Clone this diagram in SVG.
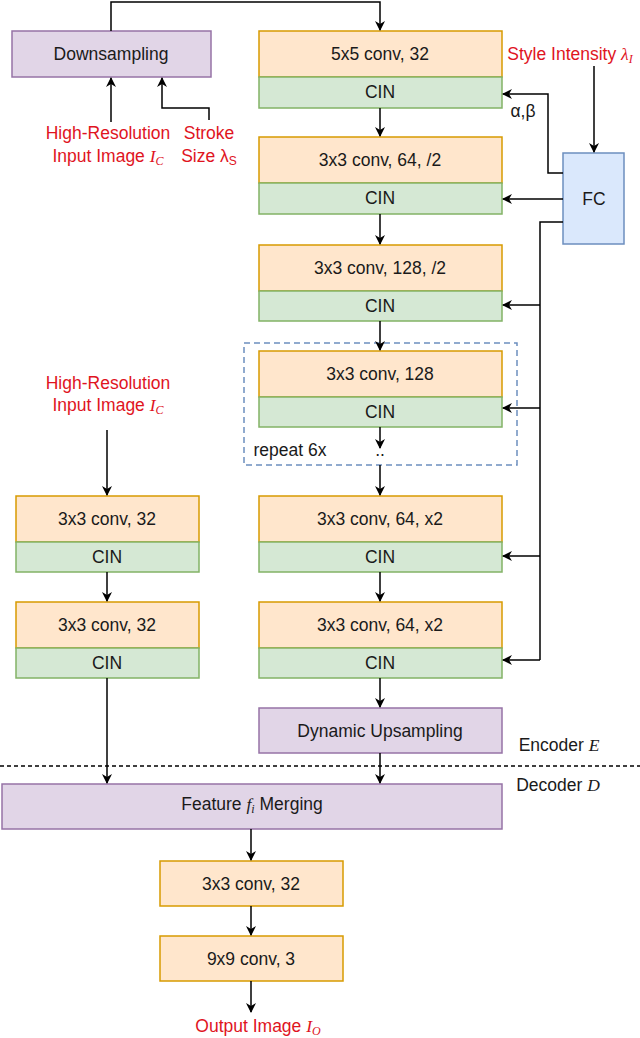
<svg xmlns="http://www.w3.org/2000/svg" width="640" height="1038" viewBox="0 0 640 1038">
<defs>
<marker id="ah" markerWidth="10" markerHeight="10" refX="9" refY="5" orient="auto" markerUnits="userSpaceOnUse"><path d="M0,0 L10,5 L0,10 L3,5 Z" fill="#000"/></marker>
<style>
text{font-family:"Liberation Sans",Arial,sans-serif;font-size:17.5px;text-anchor:middle;fill:#1a1a1a}
.r{fill:#e0141e}
.conv{fill:#ffe6cc;stroke:#d79b00;stroke-width:1.5}
.cin{fill:#d5e8d4;stroke:#82b366;stroke-width:1.5}
.pur{fill:#e1d5e7;stroke:#9673a6;stroke-width:1.5}
.fc{fill:#dae8fc;stroke:#6c8ebf;stroke-width:1.5}
.c path,.c line{fill:none;stroke:#000;stroke-width:1.5}
.a{marker-end:url(#ah)}
.m{font-family:"Liberation Serif",serif;font-style:italic}
</style>
</defs>
<g id="down"><rect class="pur" x="12" y="31" width="199" height="46"/><text x="111" y="60">Downsampling</text></g>
<g id="b1"><rect class="conv" x="259" y="31" width="243" height="46"/><text x="380" y="60">5x5 conv, 32</text><rect class="cin" x="259" y="77" width="243" height="31"/><text x="380" y="98">CIN</text></g>
<g id="b2"><rect class="conv" x="259" y="137" width="243" height="46"/><text x="380" y="166">3x3 conv, 64, /2</text><rect class="cin" x="259" y="183" width="243" height="31"/><text x="380" y="204">CIN</text></g>
<g id="b3"><rect class="conv" x="259" y="245" width="243" height="46"/><text x="380" y="274">3x3 conv, 128, /2</text><rect class="cin" x="259" y="291" width="243" height="30"/><text x="380" y="312">CIN</text></g>
<g id="rep"><rect x="244" y="343" width="273" height="122" fill="none" stroke="#6c8ebf" stroke-width="1.5" stroke-dasharray="6,4"/><text x="290" y="456">repeat 6x</text><text x="380" y="456">..</text></g>
<g id="b4"><rect class="conv" x="259" y="351" width="243" height="46"/><text x="380" y="380">3x3 conv, 128</text><rect class="cin" x="259" y="397" width="243" height="30"/><text x="380" y="418">CIN</text></g>
<g id="b5"><rect class="conv" x="259" y="496" width="243" height="46"/><text x="380" y="525">3x3 conv, 64, x2</text><rect class="cin" x="259" y="542" width="243" height="30"/><text x="380" y="563">CIN</text></g>
<g id="b6"><rect class="conv" x="259" y="602" width="243" height="46"/><text x="380" y="631">3x3 conv, 64, x2</text><rect class="cin" x="259" y="648" width="243" height="30"/><text x="380" y="669">CIN</text></g>
<g id="up"><rect class="pur" x="259" y="708" width="243" height="45"/><text x="380" y="737">Dynamic Upsampling</text></g>
<g id="l1"><rect class="conv" x="16" y="496" width="183" height="46"/><text x="107" y="525">3x3 conv, 32</text><rect class="cin" x="16" y="542" width="183" height="30"/><text x="107" y="563">CIN</text></g>
<g id="l2"><rect class="conv" x="16" y="602" width="183" height="46"/><text x="107" y="631">3x3 conv, 32</text><rect class="cin" x="16" y="648" width="183" height="30"/><text x="107" y="669">CIN</text></g>
<g id="merge"><rect class="pur" x="2" y="784" width="500" height="45"/><text x="252" y="810">Feature <tspan class="m">f<tspan font-size="12" dy="3">i</tspan></tspan><tspan dy="-3"> Merging</tspan></text></g>
<g id="d1"><rect class="conv" x="160" y="861" width="183" height="45"/><text x="251" y="890">3x3 conv, 32</text></g>
<g id="d2"><rect class="conv" x="160" y="936" width="183" height="45"/><text x="251" y="965">9x9 conv, 3</text></g>
<g id="fc"><rect class="fc" x="563" y="153" width="61" height="91"/><text x="594" y="205">FC</text></g>
<g id="labels">
<text class="r" x="108" y="139">High-Resolution</text>
<text class="r" x="108" y="162">Input Image <tspan class="m r">I<tspan font-size="12" dy="3">C</tspan></tspan></text>
<text class="r" x="209" y="139">Stroke</text>
<text class="r" x="209" y="162">Size λ<tspan font-size="12" dy="3">S</tspan></text>
<text class="r" x="570" y="60">Style Intensity <tspan class="m r">λ<tspan font-size="12" dy="3">I</tspan></tspan></text>
<text x="523" y="117">α,β</text>
<text class="r" x="108" y="389">High-Resolution</text>
<text class="r" x="108" y="411">Input Image <tspan class="m r">I<tspan font-size="12" dy="3">C</tspan></tspan></text>
<text x="559" y="751">Encoder <tspan class="m">E</tspan></text>
<text x="558" y="791">Decoder <tspan class="m">D</tspan></text>
<text class="r" x="258" y="1032">Output Image <tspan class="m r">I<tspan font-size="12" dy="3">O</tspan></tspan></text>
</g>
<g class="c">
<path class="a" d="M111,31 V2 H380 V30"/>
<path class="a" d="M111,122 V78"/>
<path class="a" d="M209,120 V108 H162 V78"/>
<path class="a" d="M380,108 V136"/>
<path class="a" d="M380,214 V244"/>
<path class="a" d="M380,321 V350"/>
<path class="a" d="M380,427 V448"/>
<path class="a" d="M380,465 V495"/>
<path class="a" d="M380,572 V601"/>
<path class="a" d="M380,678 V707"/>
<path class="a" d="M380,753 V783"/>
<path class="a" d="M107,430 V495"/>
<path class="a" d="M107,572 V601"/>
<path class="a" d="M107,678 V783"/>
<path class="a" d="M251,829 V860"/>
<path class="a" d="M251,906 V935"/>
<path class="a" d="M251,981 V1012"/>
<path class="a" d="M594,66 V152"/>
<path class="a" d="M563,173 H548 V94 H503"/>
<path class="a" d="M563,199 H503"/>
<path d="M563,222 H540 V660"/>
<path class="a" d="M540,305 H503"/>
<path class="a" d="M540,408 H503"/>
<path class="a" d="M540,556 H503"/>
<path class="a" d="M540,660 H503"/>
<line x1="0" y1="766" x2="640" y2="766" stroke-dasharray="4,3"/>
</g>
</svg>
